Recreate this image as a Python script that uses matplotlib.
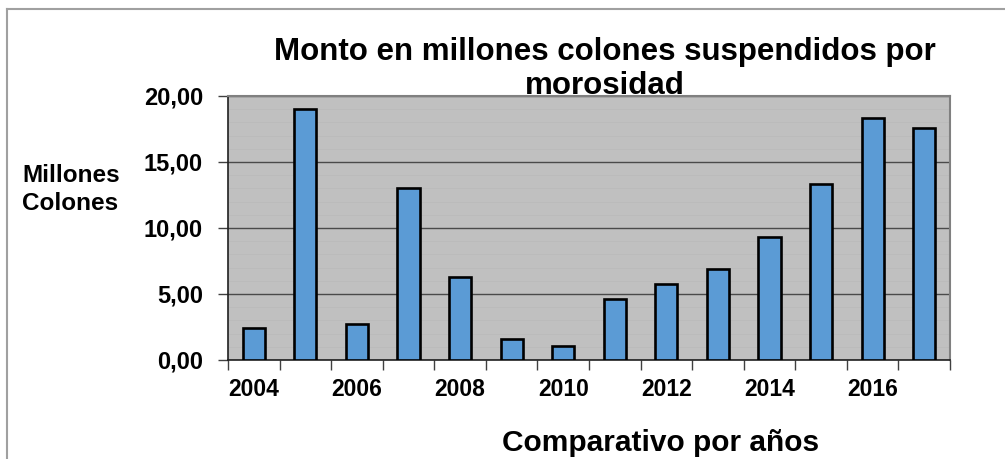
import matplotlib
matplotlib.use("Agg")
import matplotlib.pyplot as plt
from matplotlib.lines import Line2D

plt.rcParams['font.family'] = ['Liberation Sans', 'DejaVu Sans']

years = [2004, 2005, 2006, 2007, 2008, 2009, 2010, 2011, 2012, 2013, 2014, 2015, 2016, 2017]
values = [2.45, 19.0, 2.75, 13.0, 6.3, 1.57, 1.04, 4.62, 5.76, 6.9, 9.3, 13.35, 18.35, 17.55]
yticks = [0, 5, 10, 15, 20]
ytick_labels = ["0,00", "5,00", "10,00", "15,00", "20,00"]
title_lines = ["Monto en millones colones suspendidos por", "morosidad"]
ylabel_lines = ["Millones", "Colones"]
xlabel = "Comparativo por años"

W, H = 1005, 459
fig = plt.figure(figsize=(W / 100, H / 100), dpi=100)
fig.patch.set_facecolor('white')

# outer chart border
fig.add_artist(Line2D([7 / W, 7 / W], [0, 1 - 9 / H], color='#A0A0A0', lw=1.5, transform=fig.transFigure))
fig.add_artist(Line2D([7 / W, 1], [1 - 9 / H, 1 - 9 / H], color='#A0A0A0', lw=1.5, transform=fig.transFigure))

left, right, top, bottom = 228, 950, 96, 360
ax = fig.add_axes([left / W, 1 - bottom / H, (right - left) / W, (bottom - top) / H])
ax.set_facecolor('#C0C0C0')

x = list(range(len(years)))
ax.bar(x, values, width=0.43, color='#5B9BD5', edgecolor='black', linewidth=1.9, zorder=3)

ax.set_xlim(-0.5, len(years) - 0.5)
ax.set_ylim(0, 20)
ax.set_yticks(yticks)
ax.set_yticklabels(ytick_labels, fontsize=17, fontweight='bold')
ax.set_yticks(range(0, 21), minor=True)
ax.yaxis.grid(True, which='major', color='#4A4A4A', linewidth=1.0, zorder=1)
ax.yaxis.grid(True, which='minor', color='#BBBBBB', linewidth=0.6, zorder=0)
ax.set_axisbelow(True)

# x ticks at category boundaries, labels every other year at bar centers
ax.set_xticks([i - 0.5 for i in range(len(years) + 1)])
ax.set_xticklabels([])
ax.set_xticks(x[::2], minor=True)
ax.set_xticklabels([str(y) for y in years[::2]], minor=True, fontsize=16.5, fontweight='bold')
ax.tick_params(axis='x', which='major', length=7, width=1, color='#404040', direction='out')
ax.tick_params(axis='x', which='minor', length=0, pad=13)
ax.tick_params(axis='y', which='major', length=7, width=1, color='#404040', direction='out', pad=11)
ax.tick_params(axis='y', which='minor', length=0)

for s in ['left', 'bottom']:
    ax.spines[s].set_color('#202020')
    ax.spines[s].set_linewidth(1.2)
for s in ['top', 'right']:
    ax.spines[s].set_color('#808080')
    ax.spines[s].set_linewidth(1.5)

fig.text(605 / W, 1 - 60 / H, title_lines[0], ha='center', va='baseline', fontsize=22.5, fontweight='bold')
fig.text(605 / W, 1 - 94 / H, title_lines[1], ha='center', va='baseline', fontsize=22.5, fontweight='bold')
fig.text(22 / W, 1 - 182 / H, ylabel_lines[0], ha='left', va='baseline', fontsize=17.5, fontweight='bold')
fig.text(22 / W, 1 - 210 / H, ylabel_lines[1], ha='left', va='baseline', fontsize=17.5, fontweight='bold')
fig.text(661 / W, 1 - 451 / H, xlabel, ha='center', va='baseline', fontsize=21.5, fontweight='bold')

fig.savefig('out.png', dpi=100, facecolor='white')
